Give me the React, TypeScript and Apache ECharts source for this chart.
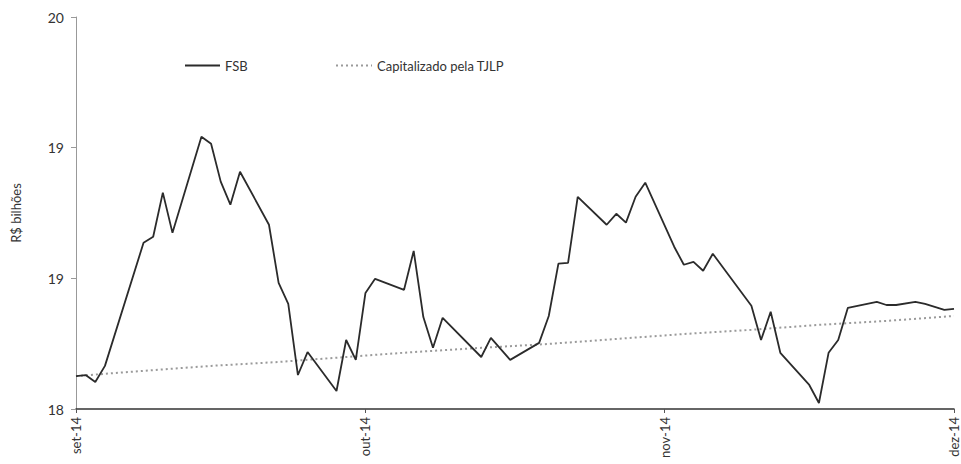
import React, { useEffect, useRef } from "react";
import * as echarts from "echarts";

// Calendar days on the x axis, Sept 1 2014 .. Dec 1 2014
const startDate = "2014-09-01";
const endDate = "2014-12-01";
const monthLabels: Record<string, string> = {
  "09": "set-14",
  "10": "out-14",
  "11": "nov-14",
  "12": "dez-14",
};

const fsbDates = [
  "2014-09-01", "2014-09-02", "2014-09-03", "2014-09-04", "2014-09-08", "2014-09-09",
  "2014-09-10", "2014-09-11", "2014-09-14", "2014-09-15", "2014-09-16", "2014-09-17",
  "2014-09-18", "2014-09-21", "2014-09-22", "2014-09-23", "2014-09-24", "2014-09-25",
  "2014-09-28", "2014-09-29", "2014-09-30", "2014-10-01", "2014-10-02", "2014-10-05",
  "2014-10-06", "2014-10-07", "2014-10-08", "2014-10-09", "2014-10-13", "2014-10-14",
  "2014-10-16", "2014-10-19", "2014-10-20", "2014-10-21", "2014-10-22", "2014-10-23",
  "2014-10-26", "2014-10-27", "2014-10-28", "2014-10-29", "2014-10-30", "2014-11-02",
  "2014-11-03", "2014-11-04", "2014-11-05", "2014-11-06", "2014-11-10", "2014-11-11",
  "2014-11-12", "2014-11-13", "2014-11-16", "2014-11-17", "2014-11-18", "2014-11-19",
  "2014-11-20", "2014-11-23", "2014-11-24", "2014-11-25", "2014-11-27", "2014-11-28",
  "2014-11-30", "2014-12-01",
];
const fsbValues = [
  18.126, 18.13, 18.103, 18.165, 18.636, 18.659,
  18.828, 18.674, 19.042, 19.015, 18.87, 18.782,
  18.908, 18.705, 18.483, 18.402, 18.13, 18.218,
  18.069, 18.264, 18.188, 18.444, 18.498, 18.456,
  18.605, 18.352, 18.234, 18.349, 18.199, 18.272,
  18.188, 18.253, 18.356, 18.556, 18.559, 18.812,
  18.705, 18.747, 18.713, 18.812, 18.866, 18.621,
  18.552, 18.563, 18.529, 18.594, 18.395, 18.264,
  18.372, 18.215, 18.092, 18.023, 18.215, 18.264,
  18.387, 18.41, 18.398, 18.398, 18.41, 18.402,
  18.379, 18.383,
];

const tjlpDates = [
  "2014-09-01", "2014-09-08", "2014-09-15", "2014-09-22", "2014-09-29", "2014-10-06",
  "2014-10-13", "2014-10-20", "2014-10-27", "2014-11-03", "2014-11-10", "2014-11-17",
  "2014-11-24", "2014-12-01",
];
const tjlpValues = [
  18.126, 18.146, 18.165, 18.18, 18.199, 18.218,
  18.234, 18.249, 18.268, 18.287, 18.303, 18.322,
  18.337, 18.356,
];

const yTicks = { min: 18, max: 19.5, interval: 0.5 };

function buildDays(): string[] {
  const out: string[] = [];
  const d = new Date(startDate + "T00:00:00Z");
  const end = new Date(endDate + "T00:00:00Z");
  while (d.getTime() <= end.getTime()) {
    out.push(d.toISOString().slice(0, 10));
    d.setUTCDate(d.getUTCDate() + 1);
  }
  return out;
}

const FONT = "Lato, 'Open Sans', sans-serif";

export default function App() {
  const ref = useRef<HTMLDivElement>(null);
  useEffect(() => {
    if (!ref.current) return;
    const chart = echarts.init(ref.current, undefined, { renderer: "svg" });
    const days = buildDays();
    const isMonthStart = (_i: number, v: string) => v.slice(8, 10) === "01";
    chart.setOption({
      animation: false,
      backgroundColor: "#ffffff",
      textStyle: { fontFamily: FONT },
      grid: { left: 76, right: 7, top: 17, bottom: 55 },
      legend: [
        {
          data: ["FSB"],
          left: 179,
          top: 54,
          itemWidth: 35,
          itemHeight: 14,
          itemGap: 5,
          itemStyle: { opacity: 0 },
          textStyle: { fontFamily: FONT, fontSize: 13, color: "#333" },
        },
        {
          data: ["Capitalizado pela TJLP"],
          left: 330,
          top: 54,
          itemWidth: 36,
          itemHeight: 14,
          itemStyle: { opacity: 0 },
          textStyle: { fontFamily: FONT, fontSize: 13, color: "#333" },
        },
      ],
      xAxis: {
        type: "category",
        data: days,
        boundaryGap: false,
        axisLine: { lineStyle: { color: "#333", width: 1.5 } },
        axisTick: { show: true, interval: isMonthStart, length: 4, lineStyle: { color: "#555" } },
        axisLabel: {
          interval: isMonthStart,
          rotate: 90,
          margin: 8,
          fontSize: 13,
          color: "#333",
          fontFamily: FONT,
          formatter: (v: string) => monthLabels[v.slice(5, 7)] || v,
        },
        splitLine: { show: false },
      },
      yAxis: {
        type: "value",
        min: yTicks.min,
        max: yTicks.max,
        interval: yTicks.interval,
        name: "R$ bilhões",
        nameLocation: "middle",
        nameRotate: 90,
        nameGap: 54,
        nameTextStyle: { fontSize: 13, color: "#333", fontFamily: FONT },
        axisLine: { show: true, lineStyle: { color: "#999", width: 1 } },
        axisTick: { show: true, length: 5, lineStyle: { color: "#999" } },
        axisLabel: {
          margin: 12,
          fontSize: 14,
          color: "#333",
          fontFamily: FONT,
          formatter: (v: number) => String(Math.round(v)),
        },
        splitLine: { show: false },
      },
      series: [
        {
          name: "FSB",
          type: "line",
          symbol: "none",
          data: fsbDates.map((d, i) => [d, fsbValues[i]]),
          lineStyle: { color: "#2b2b2b", width: 1.8 },
          itemStyle: { color: "#2b2b2b" },
          z: 3,
        },
        {
          name: "Capitalizado pela TJLP",
          type: "line",
          symbol: "none",
          data: tjlpDates.map((d, i) => [d, tjlpValues[i]]),
          lineStyle: { color: "#9a9a9a", width: 2, type: [2, 3] },
          itemStyle: { color: "#9a9a9a" },
          z: 2,
        },
      ],
    });
    return () => chart.dispose();
  }, []);
  return (
    <div
      ref={ref}
      style={{ position: "fixed", left: 0, top: 0, width: 961, height: 464, background: "#fff" }}
    />
  );
}
